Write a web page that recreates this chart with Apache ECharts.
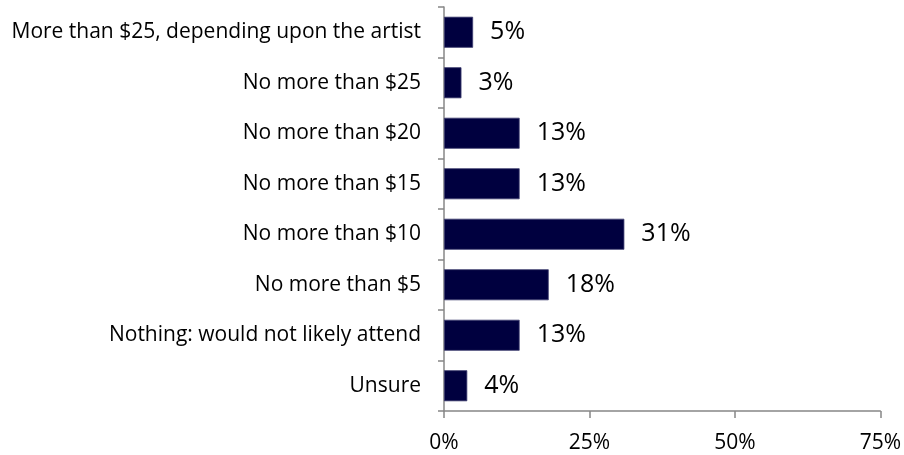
<!DOCTYPE html>
<html>
<head>
<meta charset="utf-8">
<script src="https://cdn.jsdelivr.net/npm/echarts@6/dist/echarts.min.js"></script>
<style>
  html, body { margin: 0; padding: 0; background: #fff; }
  #chart { width: 904px; height: 455px; }
</style>
</head>
<body>
<div id="chart"></div>
<script>
// Answer options, listed top to bottom
const categories = [
  'More than $25, depending upon the artist',
  'No more than $25',
  'No more than $20',
  'No more than $15',
  'No more than $10',
  'No more than $5',
  'Nothing: would not likely attend',
  'Unsure'
];
// Share of respondents (%)
const shares = [5, 3, 13, 13, 31, 18, 13, 4];
// Percent axis ticks
const xTicks = [0, 25, 50, 75];

const FONT = '"Open Sans", sans-serif';
const AXIS_GRAY = '#878787';

const chart = echarts.init(document.getElementById('chart'), null, { renderer: 'canvas' });
chart.setOption({
  animation: false,
  backgroundColor: '#ffffff',
  grid: { left: 444, right: 23, top: 7, bottom: 44, containLabel: false },
  xAxis: {
    type: 'value',
    min: xTicks[0],
    max: xTicks[xTicks.length - 1],
    interval: xTicks[1] - xTicks[0],
    axisLine: { show: true, lineStyle: { color: AXIS_GRAY, width: 1.5 } },
    axisTick: { show: true, length: 7, lineStyle: { color: AXIS_GRAY, width: 1.5 } },
    splitLine: { show: false },
    axisLabel: {
      formatter: '{value}%',
      color: '#000',
      fontFamily: FONT,
      fontSize: 21,
      margin: 22
    }
  },
  yAxis: {
    type: 'category',
    inverse: true,
    data: categories,
    axisLine: { show: true, lineStyle: { color: AXIS_GRAY, width: 1.5 } },
    axisTick: { show: true, length: 6, interval: 0, lineStyle: { color: AXIS_GRAY, width: 1.5 } },
    axisLabel: {
      color: '#000',
      fontFamily: FONT,
      fontSize: 21,
      margin: 23,
      interval: 0
    }
  },
  series: [{
    type: 'bar',
    data: shares,
    barCategoryGap: '38.6%',
    itemStyle: { color: '#00003f', borderColor: '#3d3d70', borderWidth: 0.8 },
    label: {
      show: true,
      position: 'right',
      distance: 17,
      formatter: '{c}%',
      color: '#000',
      fontFamily: FONT,
      fontSize: 25
    }
  }]
});
</script>
</body>
</html>
